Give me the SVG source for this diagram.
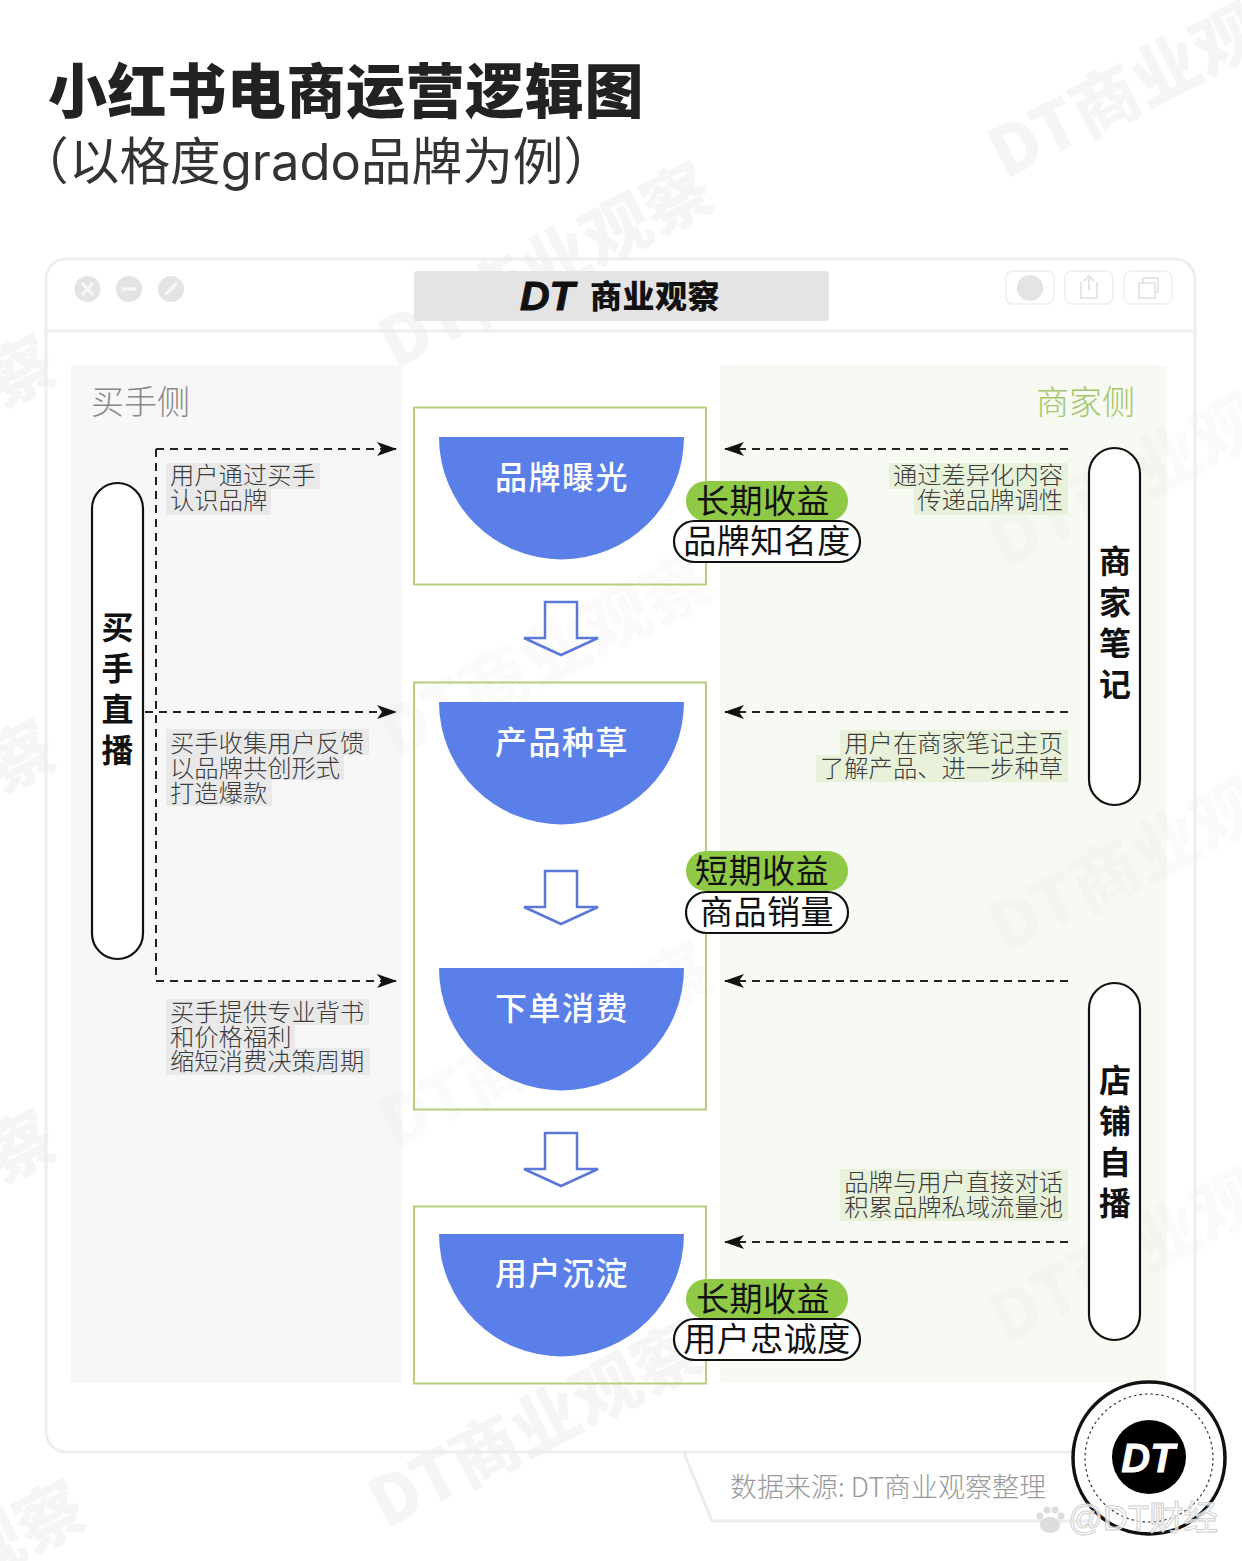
<svg xmlns="http://www.w3.org/2000/svg" width="1242" height="1561" viewBox="0 0 1242 1561">
<style>
text{font-family:"Noto Sans CJK SC","Noto Sans",sans-serif}
.wm{font-size:68px;font-weight:900;fill:#000;fill-opacity:.018;font-family:"Noto Sans CJK SC",sans-serif}
.note{font-size:24.3px;font-weight:300;fill:#3c3c3c}
.nbg{fill:#e9e9e9}.gbg{fill:#e8f1da}
.box{fill:none;stroke:#b6ce7e;stroke-width:2}
.half{fill:#5b7fe8}
.ht{font-size:32px;font-weight:500;fill:#fff;text-anchor:middle;letter-spacing:1.5px}
.gp{fill:#90c945}.wp{fill:#fff;stroke:#111;stroke-width:2.2}
.pt{font-size:33px;font-weight:400;fill:#111;text-anchor:middle;letter-spacing:.5px}
.dash{fill:none;stroke:#222;stroke-width:2;stroke-dasharray:8 6}
.ah{fill:none;stroke:#5b78d8;stroke-width:2.5;stroke-linejoin:miter}
.vp{fill:#fff;stroke:#111;stroke-width:2.2}
.vt{font-size:32px;font-weight:700;fill:#111;text-anchor:middle}
.win{fill:none;stroke:#eeeeee;stroke-width:3}
.ic{fill:#e4e4e4}.ib{fill:#fff;stroke:#f2f2f2;stroke-width:2}
</style>
<defs>
<marker id="arr" viewBox="0 0 20 14" refX="19" refY="7" markerWidth="20" markerHeight="14" markerUnits="userSpaceOnUse" orient="auto"><path d="M0 0L20 7L0 14L5 7Z" fill="#111"/></marker>
<path id="da" d="M-16 -31H16V5H37L0 22L-37 5H-16Z"/>
</defs>
<rect width="1242" height="1561" fill="#fff"/>
<g id="panel-buyer">
<rect x="71" y="365" width="331" height="1018" fill="#f7f7f7" rx="3"/>
<text x="91" y="414" font-size="33" font-weight="300" fill="#888">买手侧</text>
</g>
<g id="panel-merchant">
<rect x="720" y="365" width="447" height="1018" fill="#f7faf2" rx="3"/>
<text x="1135" y="414" font-size="33" font-weight="300" fill="#a3c66a" text-anchor="end">商家侧</text>
</g>
<g id="watermarks">
<text class="wm" style="fill-opacity:.04" transform="translate(1005 180) rotate(-27)">DT商业观察</text>
<text class="wm" transform="translate(1005 570) rotate(-27)">DT商业观察</text>
<text class="wm" transform="translate(1005 955) rotate(-27)">DT商业观察</text>
<text class="wm" transform="translate(1005 1345) rotate(-27)">DT商业观察</text>
<text class="wm" style="fill-opacity:.04" transform="translate(395 370) rotate(-27)">DT商业观察</text>
<text class="wm" transform="translate(395 760) rotate(-27)">DT商业观察</text>
<text class="wm" transform="translate(395 1150) rotate(-27)">DT商业观察</text>
<text class="wm" style="fill-opacity:.04" transform="translate(385 1530) rotate(-27)">DT商业观察</text>
<text class="wm" style="fill-opacity:.04" transform="translate(-60 20) rotate(-27)">观察</text>
<text class="wm" style="fill-opacity:.04" transform="translate(-60 440) rotate(-27)">观察</text>
<text class="wm" style="fill-opacity:.04" transform="translate(-60 825) rotate(-27)">观察</text>
<text class="wm" style="fill-opacity:.04" transform="translate(-60 1215) rotate(-27)">观察</text>
<text class="wm" style="fill-opacity:.04" transform="translate(-30 1585) rotate(-27)">观察</text>
</g>
<g id="title">
<text x="48" y="113" font-size="59" font-weight="900" fill="#222" letter-spacing=".6">小红书电商运营逻辑图</text>
<text x="18" y="180" font-size="50.700" font-weight="400" fill="#333" style="font-family:Inter,'Noto Sans CJK SC',sans-serif">（以格度grado品牌为例）</text>
</g>
<g id="window">
<rect class="win" x="46" y="259" width="1149" height="1193" rx="20"/>
<path class="win" d="M47 331H1194"/>
<circle class="ic" cx="87.500" cy="289" r="13"/><circle class="ic" cx="129" cy="289" r="13"/><circle class="ic" cx="171" cy="289" r="13"/>
<path d="M82 283l11 12M93 283l-11 12M122 289h14M165 295l12-12" stroke="#f8f8f8" stroke-width="3" fill="none"/>
<rect x="414" y="271" width="415" height="50" rx="3" fill="#e4e4e4"/>
<text x="520" y="310" font-size="41" font-weight="700" font-style="italic" fill="#111" stroke="#111" stroke-width="1" style="font-family:'Liberation Sans',sans-serif">DT</text>
<text x="590" y="308" font-size="32" font-weight="900" fill="#111" letter-spacing=".5">商业观察</text>
<rect class="ib" x="1006" y="271" width="48" height="33" rx="7"/><circle class="ic" cx="1030" cy="288" r="13"/>
<rect class="ib" x="1065" y="271" width="48" height="33" rx="7"/><path d="M1081 282v16h16v-16M1089 291v-14M1084 281l5-5 5 5" fill="none" stroke="#e6e6e6" stroke-width="2"/>
<rect class="ib" x="1124" y="271" width="48" height="33" rx="7"/><rect x="1139" y="283" width="16" height="15" fill="none" stroke="#e6e6e6" stroke-width="2"/><path d="M1143 283v-5h15v14h-3" fill="none" stroke="#e6e6e6" stroke-width="2"/>
</g>
<g id="connectors">
<path class="dash" d="M156 449H396" marker-end="url(#arr)"/>
<path class="dash" d="M156 449V981"/>
<path class="dash" d="M145 712H396" marker-end="url(#arr)"/>
<path class="dash" d="M156 981H396" marker-end="url(#arr)"/>
<path class="dash" d="M1068 449H725" marker-end="url(#arr)"/>
<path class="dash" d="M1068 712H725" marker-end="url(#arr)"/>
<path class="dash" d="M1068 981H725" marker-end="url(#arr)"/>
<path class="dash" d="M1068 1242H725" marker-end="url(#arr)"/>
<use href="#da" class="ah" x="561" y="633"/>
<use href="#da" class="ah" x="561" y="902"/>
<use href="#da" class="ah" x="561" y="1164"/>
</g>
<g id="node-brand">
<rect class="box" x="414" y="407.500" width="292" height="177"/>
<path class="half" d="M439 437H684A122.500 122.500 0 0 1 439 437Z"/>
<text class="ht" x="562" y="489">品牌曝光</text>
</g>
<g id="node-seed">
<rect class="box" x="414" y="682.500" width="292" height="427"/>
<path class="half" d="M439 702H684A122.500 122.500 0 0 1 439 702Z"/>
<text class="ht" x="562" y="754">产品种草</text>
</g>
<g id="node-order">
<path class="half" d="M439 968H684A122.500 122.500 0 0 1 439 968Z"/>
<text class="ht" x="562" y="1020">下单消费</text>
</g>
<g id="node-retain">
<rect class="box" x="414" y="1206.500" width="292" height="177"/>
<path class="half" d="M439 1234H684A122.500 122.500 0 0 1 439 1234Z"/>
<text class="ht" x="562" y="1285">用户沉淀</text>
</g>
<g id="badge-long-1">
<rect class="gp" x="686" y="481" width="162" height="40" rx="20"/>
<text class="pt" x="763" y="513">长期收益</text>
<rect class="wp" x="674" y="521" width="186" height="41" rx="20.500"/>
<text class="pt" x="767" y="553">品牌知名度</text>
</g>
<g id="badge-short">
<rect class="gp" x="686" y="851" width="162" height="40" rx="20"/>
<text class="pt" x="762" y="883">短期收益</text>
<rect class="wp" x="686" y="892" width="162" height="41" rx="20.500"/>
<text class="pt" x="767" y="924">商品销量</text>
</g>
<g id="badge-long-2">
<rect class="gp" x="686" y="1279" width="162" height="40" rx="20"/>
<text class="pt" x="763" y="1311">长期收益</text>
<rect class="wp" x="674" y="1319" width="186" height="41" rx="20.500"/>
<text class="pt" x="767" y="1351">用户忠诚度</text>
</g>
<g id="node-buyer-live">
<rect class="vp" x="92" y="483" width="51" height="476" rx="25.500"/>
<text class="vt" x="117.500" y="639">买</text><text class="vt" x="117.500" y="680">手</text><text class="vt" x="117.500" y="721">直</text><text class="vt" x="117.500" y="762">播</text>
</g>
<g id="node-merchant-notes">
<rect class="vp" x="1089" y="448" width="51" height="357" rx="25.500"/>
<text class="vt" x="1115" y="573">商</text><text class="vt" x="1115" y="614">家</text><text class="vt" x="1115" y="655">笔</text><text class="vt" x="1115" y="696">记</text>
</g>
<g id="node-store-live">
<rect class="vp" x="1089" y="983" width="51" height="357" rx="25.500"/>
<text class="vt" x="1115" y="1092">店</text><text class="vt" x="1115" y="1133">铺</text><text class="vt" x="1115" y="1174">自</text><text class="vt" x="1115" y="1215">播</text>
</g>
<g id="notes-buyer">
<rect class="nbg" x="166" y="463" width="154" height="26"/><rect class="nbg" x="166" y="488" width="105" height="27"/>
<text class="note" x="170" y="484">用户通过买手</text><text class="note" x="170" y="509">认识品牌</text>
<rect class="nbg" x="166" y="729" width="203" height="26"/><rect class="nbg" x="166" y="754" width="178" height="26"/><rect class="nbg" x="166" y="779" width="106" height="27"/>
<text class="note" x="170" y="752">买手收集用户反馈</text><text class="note" x="170" y="777">以品牌共创形式</text><text class="note" x="170" y="802">打造爆款</text>
<rect class="nbg" x="166" y="999" width="203" height="26"/><rect class="nbg" x="166" y="1024" width="129" height="26"/><rect class="nbg" x="166" y="1048" width="204" height="27"/>
<text class="note" x="170" y="1021">买手提供专业背书</text><text class="note" x="170" y="1046">和价格福利</text><text class="note" x="170" y="1070">缩短消费决策周期</text>
</g>
<g id="notes-merchant" text-anchor="end">
<rect class="gbg" x="889" y="463" width="179" height="26"/><rect class="gbg" x="914" y="488" width="154" height="27"/>
<text class="note" x="1063" y="484">通过差异化内容</text><text class="note" x="1063" y="509">传递品牌调性</text>
<rect class="gbg" x="840" y="730" width="228" height="26"/><rect class="gbg" x="816" y="755" width="252" height="27"/>
<text class="note" x="1063" y="752">用户在商家笔记主页</text><text class="note" x="1063" y="777">了解产品、进一步种草</text>
<rect class="gbg" x="840" y="1169" width="228" height="26"/><rect class="gbg" x="840" y="1194" width="228" height="27"/>
<text class="note" x="1063" y="1191">品牌与用户直接对话</text><text class="note" x="1063" y="1216">积累品牌私域流量池</text>
</g>
<g id="source">
<path d="M684 1453L712 1521H1090" fill="none" stroke="#ececec" stroke-width="3"/>
<text x="730" y="1497" font-size="27" font-weight="300" fill="#999">数据来源: DT商业观察整理</text>
</g>
<g id="logo">
<circle cx="1149" cy="1458" r="76" fill="#fff" stroke="#111" stroke-width="3.500"/>
<circle cx="1149" cy="1458" r="64" fill="none" stroke="#333" stroke-width="1.200" stroke-dasharray="2.500 3"/>
<circle cx="1149" cy="1457" r="37" fill="#000"/>
<text x="1148" y="1472" font-size="40" font-weight="700" font-style="italic" fill="#fff" stroke="#fff" stroke-width=".8" text-anchor="middle" style="font-family:'Liberation Sans',sans-serif">DT</text>
</g>
<g id="credit">
<text x="1068" y="1530" font-size="34.500" fill="#fff" fill-opacity=".75" stroke="#cfcfcf" stroke-width="1" style="font-family:'Liberation Sans','Noto Sans CJK SC',sans-serif">@DT财经</text>
<g fill="#dcdcdc"><ellipse cx="1050" cy="1525" rx="10" ry="8"/><circle cx="1040" cy="1516" r="3.500"/><circle cx="1047" cy="1510" r="3.500"/><circle cx="1055" cy="1510" r="3.500"/><circle cx="1061" cy="1516" r="3.500"/></g>
</g>
</svg>
